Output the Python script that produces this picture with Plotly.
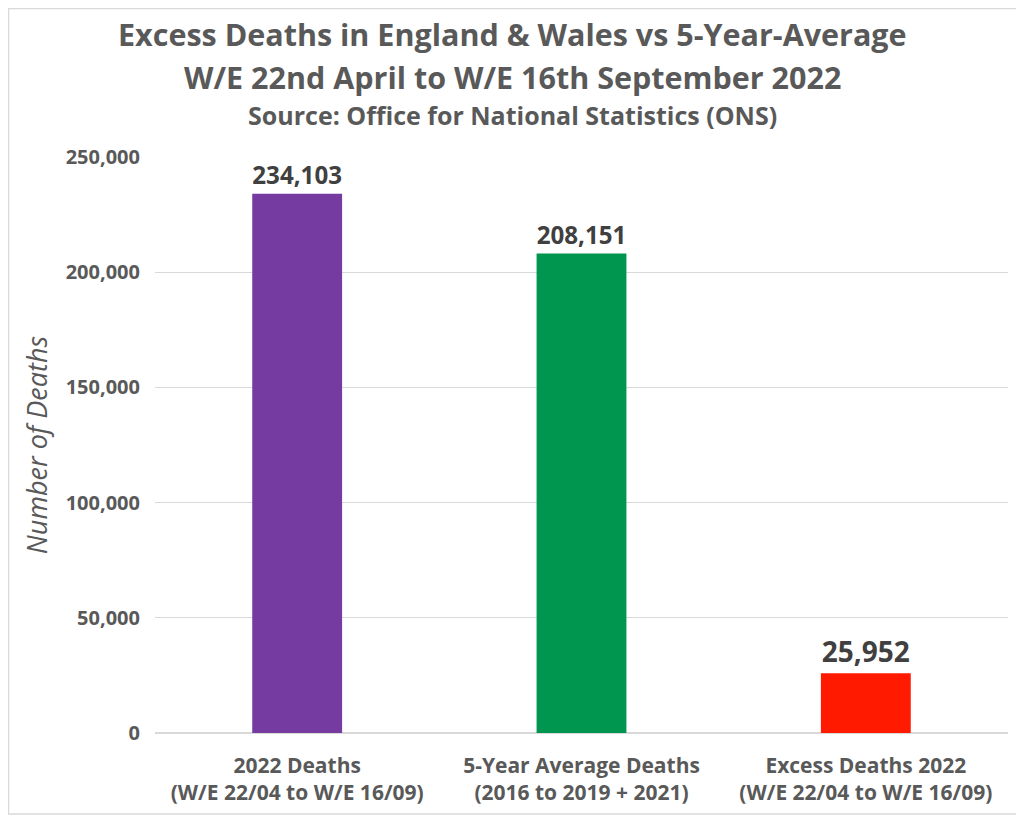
import plotly.graph_objects as go

categories = ["2022 Deaths<br>(W/E 22/04 to W/E 16/09)",
              "5-Year Average Deaths<br>(2016 to 2019 + 2021)",
              "Excess Deaths 2022<br>(W/E 22/04 to W/E 16/09)"]
deaths = [234103, 208151, 25952]
bar_colors = ["#753BA0", "#00964F", "#FF1A00"]
tick_vals = [0, 50000, 100000, 150000, 200000, 250000]

FONT = "Open Sans"
OFF = 8  # page body margin: the figure starts 8px in from the window edge
W, H = 1024 - OFF, 815 - OFF
L, R, T, B = 147, 16, 149, 82
pw, ph = W - L - R, H - T - B


# helpers: window pixel -> paper coords
def px_x(px):
    return (px - OFF - L) / pw


def px_y(py):
    return (H - B - (py - OFF)) / ph


fig = go.Figure()
fig.add_trace(go.Bar(
    x=categories, y=deaths,
    marker=dict(color=bar_colors, line=dict(width=0)),
    text=[f"{v:,}" for v in deaths], textposition="outside",
    textfont=dict(family=FONT, size=28, color="#404040", weight="bold"),
    cliponaxis=False,
))

titles = [("Excess Deaths in England & Wales vs 5-Year-Average", 34, 30.5),
          ("W/E 22nd April to W/E 16th September 2022", 77, 30.5),
          ("Source: Office for National Statistics (ONS)", 115, 25)]
for txt, py, sz in titles:
    fig.add_annotation(text=txt, x=px_x(512), xref="paper", y=px_y(py), yref="paper",
                       xanchor="center", yanchor="middle", showarrow=False,
                       font=dict(family=FONT, size=sz, color="#595959", weight="bold"))

# thin border round the chart
fig.add_shape(type="rect", xref="paper", yref="paper",
              x0=px_x(OFF + 0.5), x1=px_x(1024 - 1), y0=px_y(815 - 1), y1=px_y(OFF + 0.5),
              line=dict(color="#d9d9d9", width=1.5), layer="below")

fig.update_layout(
    width=W, height=H,
    margin=dict(l=L, r=R, t=T, b=B),
    paper_bgcolor="white", plot_bgcolor="white",
    showlegend=False,
    bargap=0.684,
    font=dict(family=FONT, color="#595959"),
    xaxis=dict(showgrid=False, showline=False, ticks="", ticklabelstandoff=18,
               automargin=False,
               tickfont=dict(family=FONT, size=21, color="#595959", weight="bold")),
    yaxis=dict(range=[0, 250000], tickvals=tick_vals, tickformat=",",
               showgrid=True, gridcolor="#d9d9d9", gridwidth=1, automargin=False,
               zeroline=True, zerolinecolor="#d9d9d9", ticks="", ticklabelstandoff=14,
               tickfont=dict(family=FONT, size=20, color="#595959", weight="bold"),
               title=dict(text="Number of Deaths", standoff=10,
                          font=dict(family=FONT, size=27, color="#595959", style="italic"))),
)

fig.write_html("out.html")
